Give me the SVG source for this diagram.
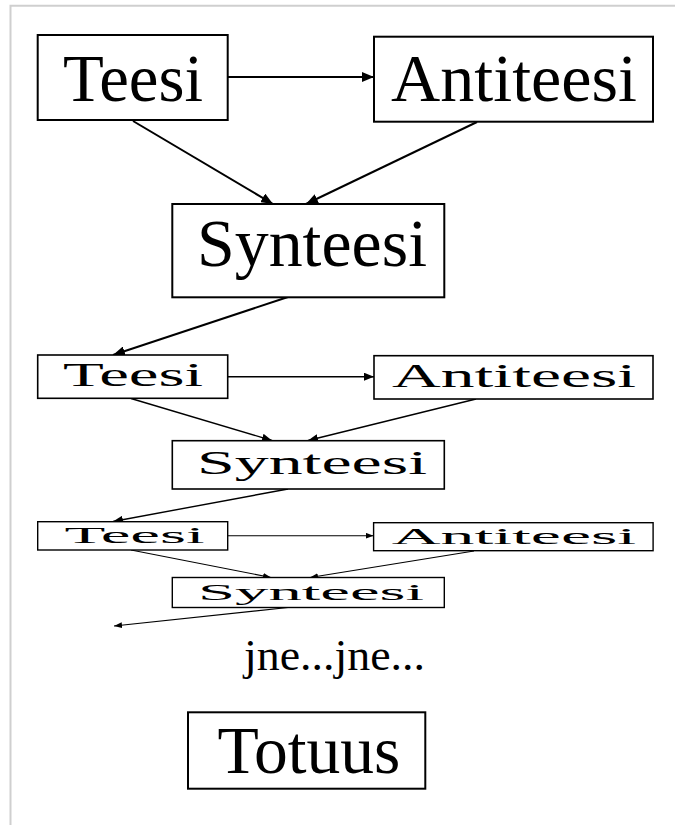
<svg xmlns="http://www.w3.org/2000/svg" width="675" height="825" viewBox="0 0 675 825">
  <style>
    .frame { stroke: #cfcfcf; stroke-width: 2; fill: none; }
    .box1 { fill: #fff; stroke: #000; stroke-width: 2; }
    .box2 { fill: #fff; stroke: #000; stroke-width: 1.6; }
    .box3 { fill: #fff; stroke: #000; stroke-width: 1.4; }
    .lbl { font-family: "Liberation Serif", "Times New Roman", serif; fill: #000; }
    .l1 { font-size: 68px; }
    .l2 { font-size: 33px; }
    .l3 { font-size: 23px; }
    .e1 { stroke: #000; stroke-width: 2; fill: none; marker-end: url(#ah1); }
    .e2 { stroke: #000; stroke-width: 1.4; fill: none; marker-end: url(#ah2); }
    .e3 { stroke: #000; stroke-width: 1.1; fill: none; marker-end: url(#ah3); }
  </style>
  <defs>
    <marker id="ah1" markerUnits="userSpaceOnUse" markerWidth="12" markerHeight="10" refX="12" refY="5" orient="auto">
      <path d="M0,0 L12,5 L0,10 z" fill="#000"/>
    </marker>
    <marker id="ah2" markerUnits="userSpaceOnUse" markerWidth="10" markerHeight="8" refX="10" refY="4" orient="auto">
      <path d="M0,0 L10,4 L0,8 z" fill="#000"/>
    </marker>
    <marker id="ah3" markerUnits="userSpaceOnUse" markerWidth="8" markerHeight="6" refX="8" refY="3" orient="auto">
      <path d="M0,0 L8,3 L0,6 z" fill="#000"/>
    </marker>
  </defs>

  <rect width="675" height="825" fill="#fff"/>
  <!-- page frame (top and left edges) -->
  <path class="frame" d="M10.5,825 V5.7 H675"/>

  <!-- connectors -->
  <g id="connectors">
    <line class="e1" x1="228" y1="77" x2="374" y2="77"/>
    <line class="e1" x1="133" y1="121" x2="273" y2="204"/>
    <line class="e1" x1="477" y1="122" x2="306" y2="204"/>
    <line class="e1" x1="288" y1="297" x2="113" y2="355"/>

    <line class="e2" x1="228" y1="376.7" x2="374" y2="376.7"/>
    <line class="e2" x1="131" y1="398.5" x2="272" y2="440.5"/>
    <line class="e2" x1="476" y1="399" x2="308" y2="440.5"/>
    <line class="e2" x1="288" y1="489" x2="113" y2="521.5"/>

    <line class="e3" x1="228" y1="535.7" x2="373.5" y2="535.7"/>
    <line class="e3" x1="131" y1="550" x2="271" y2="577.5"/>
    <line class="e3" x1="474" y1="551" x2="310" y2="577.5"/>
    <line class="e3" x1="288" y1="607.5" x2="114" y2="626"/>
  </g>

  <!-- first round -->
  <g id="teesi1">
    <rect class="box1" x="37.7" y="35" width="190" height="85"/>
    <text class="lbl l1" x="63" y="100.5" textLength="140" lengthAdjust="spacingAndGlyphs">Teesi</text>
  </g>
  <g id="antiteesi1">
    <rect class="box1" x="374" y="36.7" width="279" height="85"/>
    <text class="lbl l1" x="391" y="100.5" textLength="246" lengthAdjust="spacingAndGlyphs">Antiteesi</text>
  </g>
  <g id="synteesi1">
    <rect class="box1" x="172.3" y="204" width="272" height="93.3"/>
    <text class="lbl l1" x="197" y="266" textLength="230" lengthAdjust="spacingAndGlyphs">Synteesi</text>
  </g>

  <!-- second round -->
  <g id="teesi2">
    <rect class="box2" x="37.7" y="355" width="190" height="43.3"/>
    <text class="lbl l2" x="63" y="386" textLength="140" lengthAdjust="spacingAndGlyphs">Teesi</text>
  </g>
  <g id="antiteesi2">
    <rect class="box2" x="374" y="355.7" width="279" height="43.3"/>
    <text class="lbl l2" x="392" y="386.7" textLength="244" lengthAdjust="spacingAndGlyphs">Antiteesi</text>
  </g>
  <g id="synteesi2">
    <rect class="box2" x="172.3" y="440.7" width="272" height="48.3"/>
    <text class="lbl l2" x="197" y="474" textLength="230" lengthAdjust="spacingAndGlyphs">Synteesi</text>
  </g>

  <!-- third round -->
  <g id="teesi3">
    <rect class="box3" x="37.7" y="521.7" width="190" height="28.3"/>
    <text class="lbl l3" x="64.6" y="543" textLength="140" lengthAdjust="spacingAndGlyphs">Teesi</text>
  </g>
  <g id="antiteesi3">
    <rect class="box3" x="373.6" y="522.7" width="279.5" height="28"/>
    <text class="lbl l3" x="391.7" y="543.7" textLength="244.5" lengthAdjust="spacingAndGlyphs">Antiteesi</text>
  </g>
  <g id="synteesi3">
    <rect class="box3" x="172.3" y="577.5" width="272" height="30"/>
    <text class="lbl l3" x="198" y="599.5" textLength="226" lengthAdjust="spacingAndGlyphs">Synteesi</text>
  </g>

  <!-- continuation -->
  <g id="jne">
    <text class="lbl" x="244" y="670" font-size="45" textLength="181" lengthAdjust="spacingAndGlyphs">jne...jne...</text>
  </g>

  <g id="totuus">
    <rect class="box1" x="188" y="712.3" width="237.3" height="76.4"/>
    <text class="lbl l1" x="217.4" y="773.3" textLength="183" lengthAdjust="spacingAndGlyphs">Totuus</text>
  </g>
</svg>
